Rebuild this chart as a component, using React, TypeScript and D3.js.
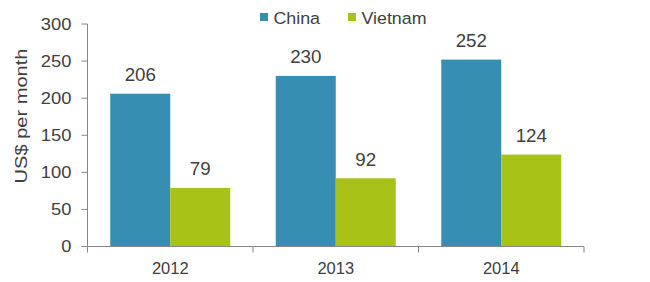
import React from "react";
import * as d3 from "d3";

const categories = ["2012", "2013", "2014"];
const seriesNames = ["China", "Vietnam"];
const china = [206, 230, 252];
const vietnam = [79, 92, 124];
const yTicks = [0, 50, 100, 150, 200, 250, 300];
const colors = ["#368fb3", "#a9c217"];

const font = "Liberation Sans, Arial, sans-serif";
const textColor = "#404040";

function T(props: { x: number; y: number; size: number; sx?: number; anchor?: string; rotate?: number; children: any }) {
  const { x, y, size, sx = 1, anchor = "start", rotate = 0, children } = props;
  return (
    <g transform={`translate(${x},${y}) rotate(${rotate}) scale(${sx},1)`}>
      <text x={0} y={0} textAnchor={anchor as any} fontSize={size} fill={textColor} fontFamily={font}>
        {children}
      </text>
    </g>
  );
}

export default function App() {
  const W = 650, H = 282;
  const left = 87.5, right = 584, top = 24, bottom = 246.5;
  const x = d3.scaleBand().domain(categories).range([left, right]).paddingInner(0).paddingOuter(0);
  const y = d3.scaleLinear().domain([0, 300]).range([bottom, top]);
  const groupW = 120;
  const sub = d3.scaleBand().domain(seriesNames).range([0, groupW]);
  const series = [china, vietnam];
  const axisColor = "#868686";
  return (
    <div style={{ position: "absolute", left: 0, top: 0 }}>
      <svg width={W} height={H} style={{ display: "block" }} fontFamily={font}>
        <rect width={W} height={H} fill="#fff" />
        {categories.map((c, i) => {
          const gx = (x(c) as number) + (x.bandwidth() - groupW) / 2;
          return series.map((s, j) => {
            const bx = gx + (sub(seriesNames[j]) as number);
            return (
              <g key={c + j}>
                <rect x={bx} y={y(s[i])} width={sub.bandwidth()} height={bottom - y(s[i])} fill={colors[j]} />
                <T x={bx + sub.bandwidth() / 2} y={y(s[i]) - 12.5} size={17.5} sx={1.07} anchor="middle">
                  {s[i]}
                </T>
              </g>
            );
          });
        })}
        {/* y axis */}
        <line x1={left} x2={left} y1={top} y2={bottom} stroke={axisColor} strokeWidth={1} />
        {yTicks.map((t) => (
          <g key={t}>
            <line x1={left - 6} x2={left} y1={y(t)} y2={y(t)} stroke={axisColor} />
            <T x={71.5} y={y(t) + 5.8} size={17} sx={1.08} anchor="end">{t}</T>
          </g>
        ))}
        {/* x axis */}
        <line x1={left} x2={right} y1={bottom} y2={bottom} stroke={axisColor} />
        {[...categories.map((c) => x(c) as number), right].map((v, i) => (
          <line key={i} x1={v} x2={v} y1={bottom} y2={bottom + 6} stroke={axisColor} />
        ))}
        {categories.map((c) => (
          <T key={c} x={(x(c) as number) + x.bandwidth() / 2} y={273.5} size={16.5} anchor="middle">{c}</T>
        ))}
        <T x={27} y={116} size={17} sx={1.18} anchor="middle" rotate={-90}>US$ per month</T>
        {/* legend */}
        {seriesNames.map((n, j) => {
          const lx = [260, 348][j];
          return (
            <g key={n}>
              <rect x={lx} y={13} width={8} height={8} fill={colors[j]} />
              <T x={lx + 13.5} y={24} size={16.5} sx={1.08}>{n}</T>
            </g>
          );
        })}
      </svg>
    </div>
  );
}
